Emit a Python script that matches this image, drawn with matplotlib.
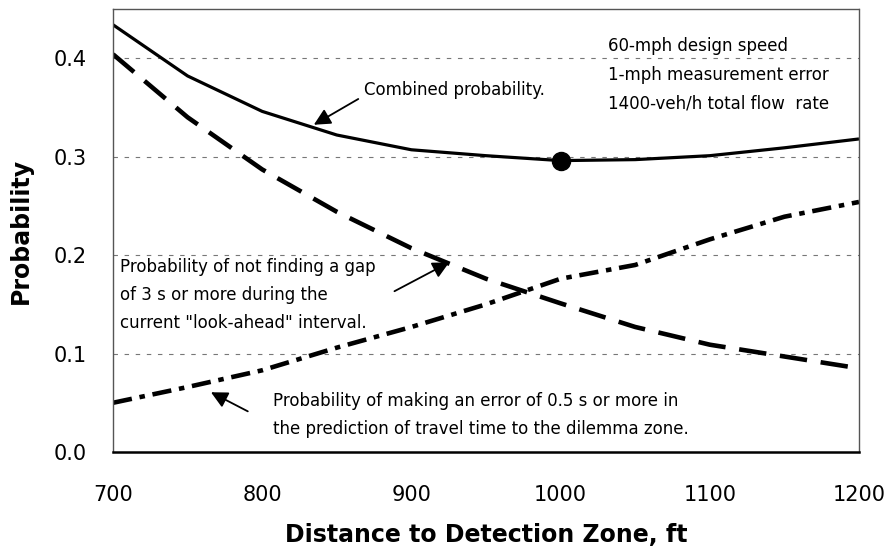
import matplotlib
matplotlib.use("Agg")
import matplotlib.pyplot as plt

plt.rcParams['font.family'] = ['DejaVu Sans']

distance = [700, 750, 800, 850, 900, 950, 1000, 1050, 1100, 1150, 1200]
combined = [0.434, 0.382, 0.346, 0.322, 0.307, 0.301, 0.296, 0.297, 0.301, 0.309, 0.318]
no_gap = [0.404, 0.340, 0.287, 0.244, 0.207, 0.176, 0.151, 0.127, 0.109, 0.097, 0.085]
pred_error = [0.050, 0.066, 0.083, 0.106, 0.127, 0.150, 0.176, 0.190, 0.216, 0.239, 0.254]
opt_x, opt_y = 1000, 0.296

x_ticks = [700, 800, 900, 1000, 1100, 1200]
y_ticks = [0.0, 0.1, 0.2, 0.3, 0.4]

fig = plt.figure(figsize=(8.89, 5.54), dpi=100)
ax = fig.add_axes([113/889, 1 - 452/554, (859-113)/889, (452-9)/554])

ax.plot(distance, combined, color='black', lw=2.3, solid_capstyle='butt')
ax.plot(distance, no_gap, color='black', lw=3.3, dashes=(6, 3))
ax.plot(distance, pred_error, color='black', lw=3.3, dashes=(4.2, 1.7, 1.2, 1.7))
ax.plot([opt_x], [opt_y], 'o', color='black', markersize=13)

ax.set_xlim(700, 1200)
ax.set_ylim(0, 0.45)
ax.set_xticks(x_ticks)
ax.set_yticks(y_ticks)
ax.set_yticklabels([f"{v:.1f}" for v in y_ticks])
ax.tick_params(axis='both', length=0, labelsize=15)
ax.tick_params(axis='x', pad=24)
ax.tick_params(axis='y', pad=19)

for y in [0.1, 0.2, 0.3, 0.4]:
    ax.axhline(y, color='#777777', lw=0.8, dashes=(4, 6), zorder=0)

for s in ['top', 'right', 'left']:
    ax.spines[s].set_color('#555555')
    ax.spines[s].set_linestyle((0, (1, 1)))
    ax.spines[s].set_linewidth(1.0)
ax.spines['bottom'].set_color('black')
ax.spines['bottom'].set_linewidth(1.8)

ax.set_xlabel('Distance to Detection Zone, ft', fontsize=17, fontweight='bold')
ax.xaxis.set_label_coords(0.5, -0.160)
ax.set_ylabel('Probability', fontsize=17, fontweight='bold')
ax.yaxis.set_label_coords(-0.107, 0.5)

fs = 12
ax.text(1032, 0.412, '60-mph design speed', fontsize=fs, va='center')
ax.text(1032, 0.383, '1-mph measurement error', fontsize=fs, va='center')
ax.text(1032, 0.354, '1400-veh/h total flow  rate', fontsize=fs, va='center')

ax.text(868, 0.368, 'Combined probability.', fontsize=fs, va='center')
arrow = dict(arrowstyle='-|>,head_length=1.0,head_width=0.5', color='black', lw=1.3)
ax.annotate('', xy=(833, 0.331), xytext=(866, 0.360), arrowprops=arrow)

ax.text(705, 0.197, 'Probability of not finding a gap\nof 3 s or more during the\ncurrent "look-ahead" interval.',
        fontsize=fs, va='top', linespacing=1.72)
ax.annotate('', xy=(927, 0.194), xytext=(887, 0.162), arrowprops=arrow)

ax.text(807, 0.038, 'Probability of making an error of 0.5 s or more in\nthe prediction of travel time to the dilemma zone.',
        fontsize=fs, va='center', linespacing=1.72)
ax.annotate('', xy=(764, 0.062), xytext=(792, 0.040), arrowprops=arrow)

fig.savefig('out.png', dpi=100)
